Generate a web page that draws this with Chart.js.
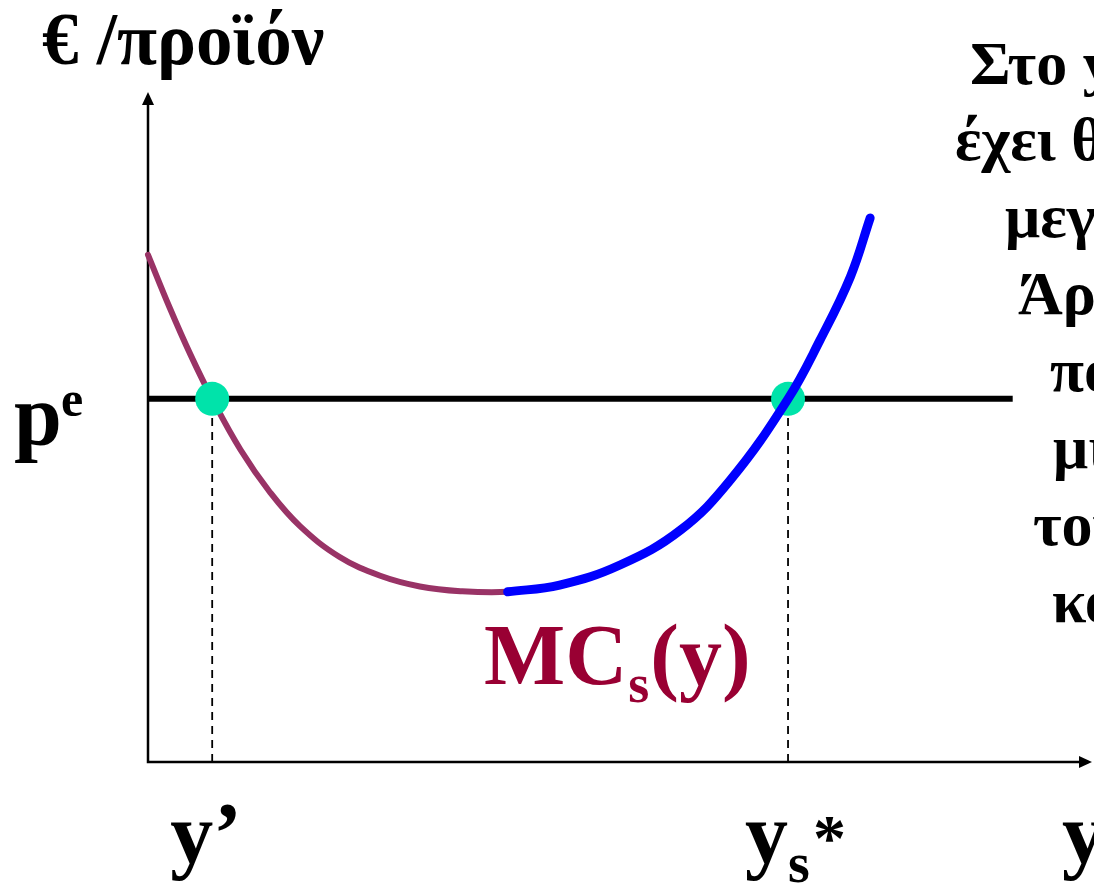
<!DOCTYPE html>
<html>
<head>
<meta charset="utf-8">
<script src="https://cdn.jsdelivr.net/npm/chart.js@4"></script>
<style>
  html, body { margin: 0; padding: 0; background: #fff; }
  #wrap { width: 1094px; height: 887px; position: relative; }
</style>
</head>
<body>
<div id="wrap"><canvas id="mc-chart" width="1094" height="887"></canvas></div>
<script>
// MC curve (axes 0..100 both ways)
const mcX = [0, 2.3, 4.5, 6.8, 9.8, 12.9, 16.1, 20.3, 24.6, 28.8, 33.1, 38.1, 43.6, 50.0, 56.4, 61.7, 67.8, 71.2, 74.4, 76.5];
const mcY = [75.7, 67.8, 60.8, 54.2, 46.6, 40.3, 35.2, 30.6, 27.8, 26.2, 25.5, 25.4, 26.4, 29.4, 34.6, 42.1, 54.2, 63.0, 72.4, 81.2];
const blueFrom = 11; // rising part of MC, drawn in blue
const priceE = 54.2;     // p^e
const priceEnd = 91.6;   // where the price line stops
const yPrime = 6.8;      // y'
const yStar = 67.8;      // y_s*

const pts = (xs, ys) => xs.map((x, i) => ({ x, y: ys[i] }));
const SERIF = '"Liberation Serif", "Times New Roman", serif';

const drawExtras = {
  id: 'drawExtras',
  beforeDatasetsDraw(chart) {
    const { ctx, chartArea: a } = chart;
    ctx.save();
    ctx.strokeStyle = '#000';
    ctx.fillStyle = '#000';
    ctx.lineWidth = 2.5;
    ctx.beginPath();
    ctx.moveTo(a.left, a.top + 4);
    ctx.lineTo(a.left, a.bottom);
    ctx.lineTo(a.right - 4, a.bottom);
    ctx.stroke();
    // arrow heads
    ctx.beginPath();
    ctx.moveTo(a.left, a.top);
    ctx.lineTo(a.left - 6, a.top + 13);
    ctx.lineTo(a.left + 6, a.top + 13);
    ctx.closePath();
    ctx.fill();
    ctx.beginPath();
    ctx.moveTo(a.right, a.bottom);
    ctx.lineTo(a.right - 13, a.bottom - 6);
    ctx.lineTo(a.right - 13, a.bottom + 6);
    ctx.closePath();
    ctx.fill();
    ctx.restore();
  },
  afterDraw(chart) {
    const { ctx, scales: { x, y } } = chart;
    ctx.save();
    ctx.fillStyle = '#000';
    ctx.textBaseline = 'alphabetic';
    ctx.textAlign = 'left';

    ctx.font = 'bold 73px ' + SERIF;
    ctx.fillText('€ /προϊόν', 42, 64);

    // p^e
    const py = y.getPixelForValue(priceE);
    ctx.font = 'bold 86px ' + SERIF;
    ctx.fillText('p', 14, py + 45);
    ctx.font = 'bold 50px ' + SERIF;
    ctx.fillText('e', 61, py + 17);

    // y' and y_s*
    const xs = x.getPixelForValue(yStar);
    ctx.font = 'bold 86px ' + SERIF;
    ctx.fillText('y’', x.getPixelForValue(yPrime) - 42, 862);
    ctx.fillText('y', xs - 43, 862);
    ctx.font = 'bold 56px ' + SERIF;
    ctx.fillText('s', xs, 882);
    ctx.font = 'bold 66px ' + SERIF;
    ctx.fillText('*', xs + 25, 860);
    ctx.font = 'bold 86px ' + SERIF;
    ctx.fillText('y', 1062, 862);

    // MC_s(y)
    ctx.fillStyle = '#990033';
    ctx.font = 'bold 86px ' + SERIF;
    let mx = 484;
    ctx.fillText('MC', mx, 684);
    mx += ctx.measureText('MC').width;
    ctx.font = 'bold 54px ' + SERIF;
    ctx.fillText('s', mx + 1, 702);
    mx += ctx.measureText('s').width + 2;
    ctx.font = 'bold 86px ' + SERIF;
    ctx.fillText('(y)', mx, 684);

    // text on the right, cut by the page edge
    ctx.fillStyle = '#000';
    ctx.font = 'bold 62px ' + SERIF;
    const side = [
      ['Στο y’ η', 970, 84],
      ['έχει θέση', 955, 160],
      ['μεγίστου', 1005, 237],
      ['Άρα', 1018, 314],
      ['πολύ', 1050, 391],
      ['μικρή', 1053, 468],
      ['τομή', 1033, 545],
      ['κόστους', 1052, 622]
    ];
    side.forEach(([t, tx, ty]) => ctx.fillText(t, tx, ty));
    ctx.restore();
  }
};

new Chart(document.getElementById('mc-chart'), {
  type: 'scatter',
  data: {
    datasets: [
      {
        label: 'p^e',
        type: 'line',
        data: [{ x: 0, y: priceE }, { x: priceEnd, y: priceE }],
        borderColor: '#000', borderWidth: 6, pointRadius: 0, order: 5
      },
      {
        label: 'y-prime',
        type: 'line',
        data: [{ x: yPrime, y: 0 }, { x: yPrime, y: priceE }],
        borderColor: '#000', borderWidth: 1.8, borderDash: [8, 6], pointRadius: 0, order: 6
      },
      {
        label: 'y-star',
        type: 'line',
        data: [{ x: yStar, y: 0 }, { x: yStar, y: priceE }],
        borderColor: '#000', borderWidth: 1.8, borderDash: [8, 6], pointRadius: 0, order: 6
      },
      {
        label: 'MC',
        type: 'line',
        data: pts(mcX, mcY),
        borderColor: '#993366', borderWidth: 6, borderCapStyle: 'round',
        tension: 0.4, pointRadius: 0, order: 4
      },
      {
        label: 'points',
        data: [{ x: yPrime, y: priceE }, { x: yStar, y: priceE }],
        backgroundColor: '#00E3AA', borderWidth: 0, pointRadius: 17, order: 3
      },
      {
        label: 'MC rising',
        type: 'line',
        data: pts(mcX.slice(blueFrom), mcY.slice(blueFrom)),
        borderColor: '#0000FF', borderWidth: 9, borderCapStyle: 'round',
        tension: 0.4, pointRadius: 0, order: 1
      }
    ]
  },
  options: {
    responsive: false,
    animation: false,
    layout: { autoPadding: false, padding: { left: 148, right: 2, top: 92, bottom: 125 } },
    plugins: { legend: { display: false }, tooltip: { enabled: false } },
    scales: {
      x: { type: 'linear', min: 0, max: 100, display: false },
      y: { type: 'linear', min: 0, max: 100, display: false }
    },
    clip: false
  },
  plugins: [drawExtras]
});
</script>
</body>
</html>
